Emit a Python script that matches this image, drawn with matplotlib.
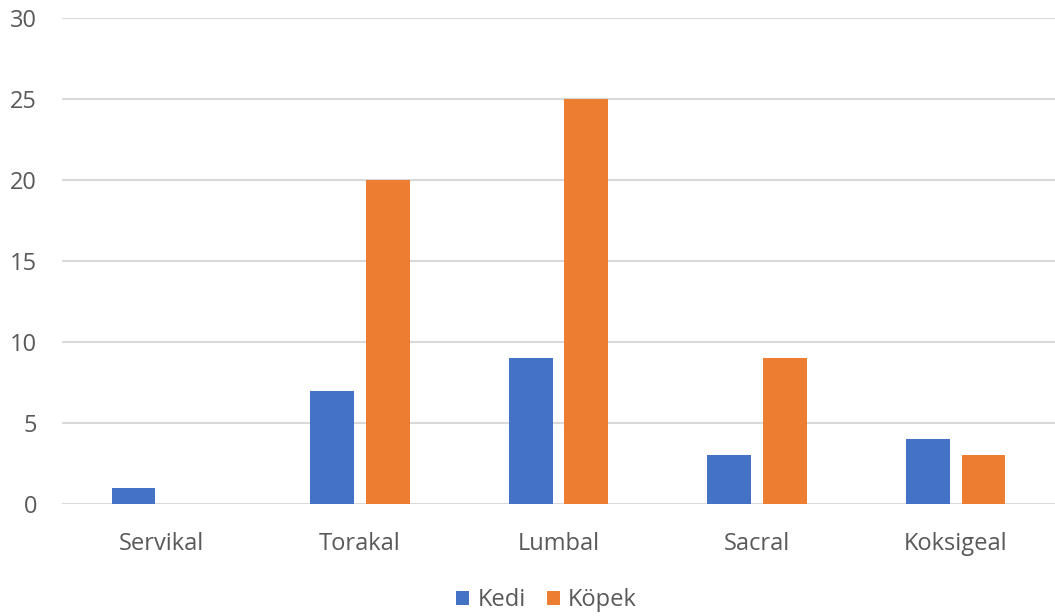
import matplotlib.pyplot as plt
import numpy as np

plt.rcParams['font.family'] = ['Open Sans', 'DejaVu Sans']

categories = ['Servikal', 'Torakal', 'Lumbal', 'Sacral', 'Koksigeal']
kedi = [1, 7, 9, 3, 4]
kopek = [0, 20, 25, 9, 3]

blue = '#4472C4'
orange = '#ED7D31'
grey = '#595959'

fig = plt.figure(figsize=(10.55, 6.16), dpi=100)
ax = fig.add_axes([62 / 1055, 1 - 504 / 616, 993 / 1055, 486 / 616])

x = np.arange(len(categories))
w = 0.22
ax.bar(x - 0.14, kedi, w, color=blue, label='Kedi', zorder=3)
ax.bar(x + 0.14, kopek, w, color=orange, label='Köpek', zorder=3)

ax.set_xlim(-0.5, len(categories) - 0.5)
ax.set_ylim(0, 30)
ax.set_yticks(range(0, 31, 5))
ax.yaxis.grid(True, color='#D9D9D9', linewidth=1.5, zorder=0)
ax.set_axisbelow(True)

for s in ax.spines.values():
    s.set_visible(False)
ax.tick_params(axis='both', length=0, labelsize=17, colors=grey)
ax.tick_params(axis='y', pad=18)
ax.tick_params(axis='x', pad=20)
ax.set_xticks(x)
ax.set_xticklabels(categories)

leg = fig.legend(loc='center', bbox_to_anchor=(0.518, 1 - 600 / 616), ncol=2,
                 frameon=False, fontsize=17, handlelength=0.55, handleheight=0.55,
                 handletextpad=0.35, columnspacing=0.9)
for t in leg.get_texts():
    t.set_color(grey)

fig.savefig('out.png', dpi=100)
